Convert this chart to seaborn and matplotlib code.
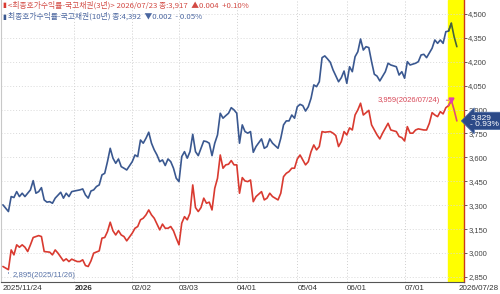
"""
국고채 3년 / 10년 최종호가수익률 차트
"""

#Packages:
import seaborn as sns
import matplotlib.pyplot as plt
import pandas as pd

#-----------------------------------
#Data (trading day index from 2025/11/24):
red_days = [0, 2, 3, 4, 5, 6, 7, 8, 9, 10, 11, 13, 14, 15, 17, 18, 19, 20, 22, 23,
            24, 25, 27, 28, 29, 30, 31, 32, 33, 35, 36, 37, 38, 39, 40, 41, 42, 43, 44, 45,
            47, 48, 49, 50, 51, 52, 53, 54, 55, 56, 57, 58, 59, 60, 61, 62, 63, 64, 65, 66,
            67, 68, 69, 70, 71, 72, 73, 74, 75, 76, 77, 78, 79, 80, 81, 82, 83, 84, 85, 86,
            87, 88, 89, 90, 91, 92, 94, 95, 96, 97, 98, 100, 101, 102, 103, 104, 105, 106, 107, 108,
            109, 110, 111, 112, 113, 114, 115, 116, 117, 119, 120, 121, 122, 123, 124, 125, 126, 127, 128, 129,
            130, 131, 133, 134, 136, 137, 138, 140, 141, 143, 144, 145, 146, 147, 148, 149, 150, 151, 153, 154,
            155, 156, 157, 158, 159, 160, 161, 162, 163, 164, 165]
red_vals = [2915, 2895, 3019, 2988, 3051, 3036, 3051, 3036, 3009, 3051, 3097, 3109, 3103, 3009, 3005, 2988, 3019, 2999, 2950, 2963,
            2946, 2961, 2946, 2946, 2957, 2921, 2915, 2950, 2999, 3013, 3093, 3097, 3134, 3193, 3139, 3113, 3140, 3113, 3103, 3076,
            3124, 3155, 3166, 3208, 3218, 3239, 3270, 3239, 3218, 3181, 3145, 3181, 3155, 3155, 3166, 3139, 3093, 3051, 3187, 3228,
            3208, 3250, 3427, 3285, 3260, 3285, 3344, 3312, 3319, 3270, 3406, 3469, 3615, 3532, 3553, 3557, 3580, 3553, 3553, 3375,
            3473, 3452, 3448, 3458, 3322, 3354, 3385, 3333, 3344, 3375, 3354, 3333, 3375, 3479, 3500, 3511, 3532, 3532, 3590, 3615,
            3584, 3553, 3573, 3636, 3678, 3647, 3668, 3762, 3758, 3762, 3752, 3737, 3668, 3699, 3762, 3741, 3785, 3772, 3866, 3898,
            3940, 3866, 3895, 3804, 3741, 3716, 3752, 3814, 3772, 3762, 3731, 3724, 3703, 3793, 3752, 3752, 3772, 3779, 3772, 3772,
            3814, 3881, 3866, 3856, 3887, 3873, 3912, 3925, 3959, 3898, 3829]

blue_days = [0, 2, 3, 4, 5, 6, 7, 8, 10, 11, 12, 13, 14, 15, 16, 17, 18, 19, 21, 22,
             23, 24, 25, 26, 28, 29, 30, 31, 32, 33, 34, 35, 36, 37, 38, 39, 40, 41, 42, 43,
             44, 45, 47, 48, 49, 50, 51, 52, 53, 54, 55, 56, 57, 58, 59, 60, 61, 62, 63, 64,
             65, 66, 67, 68, 69, 70, 71, 72, 73, 74, 75, 76, 77, 78, 79, 80, 81, 82, 83, 84,
             85, 86, 87, 88, 89, 90, 91, 92, 94, 95, 96, 97, 98, 100, 101, 102, 103, 104, 105, 106,
             107, 108, 109, 110, 111, 112, 113, 114, 115, 116, 117, 118, 119, 120, 122, 123, 124, 125, 126, 127,
             128, 129, 130, 131, 132, 133, 134, 135, 136, 137, 139, 140, 141, 143, 144, 145, 146, 147, 148, 150,
             151, 152, 153, 154, 156, 157, 158, 159, 160, 161, 162, 163, 164, 165]
blue_vals = [3302, 3260, 3354, 3348, 3385, 3354, 3375, 3354, 3396, 3454, 3375, 3385, 3410, 3333, 3319, 3322, 3312, 3344, 3381, 3344,
             3375, 3354, 3385, 3389, 3396, 3402, 3364, 3344, 3389, 3396, 3417, 3427, 3490, 3500, 3573, 3657, 3595, 3563, 3590, 3542,
             3532, 3521, 3573, 3615, 3605, 3709, 3689, 3720, 3758, 3689, 3647, 3615, 3573, 3584, 3549, 3590, 3573, 3532, 3469, 3448,
             3605, 3636, 3595, 3636, 3745, 3636, 3611, 3657, 3703, 3699, 3689, 3611, 3689, 3741, 3877, 3846, 3862, 3877, 3912, 3898,
             3877, 3689, 3804, 3762, 3752, 3762, 3632, 3668, 3716, 3657, 3668, 3716, 3689, 3657, 3720, 3804, 3829, 3829, 3866, 3846,
             3918, 3933, 3925, 3891, 3918, 3971, 4055, 4044, 4075, 4226, 4237, 4218, 4197, 4149, 4075, 4100, 4142, 4065, 4169, 4138,
             4232, 4263, 4343, 4274, 4295, 4289, 4201, 4122, 4110, 4080, 4138, 4191, 4180, 4169, 4117, 4138, 4097, 4201, 4180, 4191,
             4201, 4243, 4247, 4226, 4285, 4337, 4316, 4337, 4316, 4389, 4393, 4442, 4358, 4295]

tick_days = [0, 26, 47, 64, 85, 107, 125, 146]
tick_labels = ['2025/11/24', '2026', '02/02', '03/03', '04/01', '05/04', '06/01', '07/01']
last_label = '2026/07/28'
y_ticks = [2850, 3000, 3150, 3300, 3450, 3600, 3750, 3900, 4050, 4200, 4350, 4500]

legend_3y = '<최종호가수익률-국고채권(3년)> 2026/07/23 종:3,917  ▲0.004  +0.10%'
legend_10y = '최종호가수익률-국고채권(10년) 종:4,392  ▼0.002  - 0.05%'
max_label = '3,959(2026/07/24)'
min_label = '2,895(2025/11/26)'
badge_label = '3,829\n- 0.93%'

red_df = pd.DataFrame({'day': red_days, 'val': red_vals})
blue_df = pd.DataFrame({'day': blue_days, 'val': blue_vals})

#-----------------------------------
#Plot:
sns.set_style('white')
plt.rcParams['font.family'] = ['Liberation Sans', 'DejaVu Sans']
kr = ['Noto Sans CJK KR', 'DejaVu Sans']

fig = plt.figure(figsize=(5.0, 2.94), dpi=100)
ax = fig.add_axes([0.002, 0.041, 0.926, 0.959])

red_c = '#d93a30'
blue_c = '#3a5890'

# yellow band for the last days
ax.axvspan(161.8, 168, color='#ffff00', zorder=0)

sns.lineplot(data=red_df[red_df.day <= 163], x='day', y='val', color=red_c, lw=1.2, ax=ax, zorder=3)
sns.lineplot(data=blue_df[blue_df.day <= 163], x='day', y='val', color=blue_c, lw=1.2, ax=ax, zorder=3)
sns.lineplot(data=red_df[red_df.day >= 162], x='day', y='val', color='#e04c78', lw=1.2, ax=ax, zorder=3)
sns.lineplot(data=blue_df[blue_df.day >= 162], x='day', y='val', color='#46643c', lw=1.2, ax=ax, zorder=3)

ax.set_xlim(-0.7, 167.6)
ax.set_ylim(2818, 4588)

# grid
for d in tick_days[1:]:
    ax.axvline(d, color='#cfcfcf', lw=0.7, ls=(0, (1, 2)), zorder=1)
for v in y_ticks:
    ax.axhline(v, color='#dadada', lw=0.7, ls=(0, (1, 2)), zorder=1)

# axes
ax.yaxis.tick_right()
ax.set_yticks(y_ticks)
ax.set_yticklabels([f'{v:,}' for v in y_ticks], fontsize=5.5, color='#444444')
ax.tick_params(axis='y', direction='out', length=2, width=0.6, pad=1, colors='#444444')
ax.set_xticks(tick_days)
ax.set_xticklabels(tick_labels, fontsize=5.8, color='#333333', ha='left')
ax.get_xticklabels()[1].set_fontweight('bold')
ax.tick_params(axis='x', direction='in', length=3, width=0.6, pad=2)
ax.set_xlabel('')
ax.set_ylabel('')
ax.spines['top'].set_visible(False)
ax.spines['left'].set_color('#c8c8c8')
ax.spines['left'].set_linewidth(0.8)
ax.spines['right'].set_color('#cc3a1a')
ax.spines['right'].set_linewidth(1.0)
ax.spines['bottom'].set_color('#555555')
ax.spines['bottom'].set_linewidth(0.8)

ax.text(1.075, -0.012, last_label, transform=ax.transAxes, ha='right', va='top',
        fontsize=5.8, color='#333333')

# legend lines
ax.text(0.004, 0.982, '▮', transform=ax.transAxes, fontsize=5, color=red_c, va='center', family=kr)
ax.text(0.016, 0.982, legend_3y, transform=ax.transAxes, fontsize=5.6, color='#d24a44',
        va='center', family=kr)
ax.text(0.004, 0.941, '▮', transform=ax.transAxes, fontsize=5, color=blue_c, va='center', family=kr)
ax.text(0.016, 0.941, legend_10y, transform=ax.transAxes, fontsize=5.6, color='#4a66a0',
        va='center', family=kr)

# max / min annotations
max_i = red_vals.index(max(red_vals))
ax.plot(red_days[max_i], red_vals[max_i], marker='v', ms=3.5, color='#e040b0', zorder=4)
ax.annotate(max_label, xy=(red_days[max_i], red_vals[max_i]), xytext=(-8, 0),
            textcoords='offset points', ha='right', va='center', fontsize=5.5, color='#d84858',
            arrowprops=dict(arrowstyle='-', color='#e05090', lw=0.7))

min_i = red_vals.index(min(red_vals))
ax.annotate(min_label, xy=(red_days[min_i], red_vals[min_i]), xytext=(3, -4.5),
            textcoords='offset points', ha='left', va='center', fontsize=5.6, color='#5a74a8',
            arrowprops=dict(arrowstyle='-', color='#5a74a8', lw=0.6,
                            connectionstyle='angle,angleA=0,angleB=90,rad=0'))

# current value badge
ax.text(1.014, red_vals[-1], badge_label, transform=ax.get_yaxis_transform(), ha='left',
        va='center', fontsize=6, color='white', linespacing=0.95, zorder=6, clip_on=False,
        bbox=dict(boxstyle='larrow,pad=0.22', fc='#2c4a88', ec='#5070a8', lw=0.5))

fig.savefig('out.png', dpi=100)
